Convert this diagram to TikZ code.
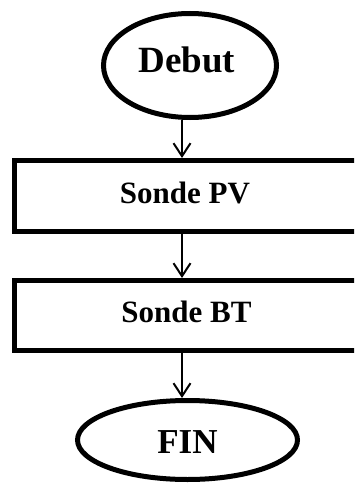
\documentclass[tikz,border=0pt]{standalone}
\usepackage{fontspec}
\setmainfont{Liberation Serif}
\usetikzlibrary{shapes.geometric,arrows.meta}
\begin{document}
\begin{tikzpicture}[x=1pt,y=-1pt,
  shapeline/.style={draw=black,line width=5pt,inner sep=0pt},
  termbox/.style={shapeline,ellipse},
  procbox/.style={shapeline,rectangle},
  lbl/.style={inner sep=0pt,font=\bfseries},
  arr/.style={line width=2pt,-{Straight Barb[length=13pt,width=17pt,line width=2pt]}}]
\useasboundingbox (0,0) rectangle (354,484);
\begin{scope}
\clip (0,0) rectangle (354,484);
\node[termbox,minimum width=173pt,minimum height=104pt] (debut) at (190,65.5) {};
\node[procbox,minimum width=347.5pt,minimum height=71pt] (pv) at (188.25,196) {};
\node[procbox,minimum width=347.5pt,minimum height=69.5pt] (bt) at (188.25,315.25) {};
\node[termbox,minimum width=220pt,minimum height=79pt] (fin) at (187.5,440) {};
\node[lbl,font=\bfseries\fontsize{37}{40}\selectfont] (tdebut) at (187,60) {Debut};
\node[lbl,font=\bfseries\fontsize{31}{34}\selectfont] (tpv) at (185,192.5) {Sonde PV};
\node[lbl,font=\bfseries\fontsize{31}{34}\selectfont] (tbt) at (186.5,311.5) {Sonde BT};
\node[lbl,font=\bfseries\fontsize{35}{38}\selectfont] (tfin) at (187.5,442) {FIN};
\coordinate (ax) at (182,0);
\draw[arr] (debut.south -| ax) -- (pv.north -| ax);
\draw[arr] (pv.south -| ax) -- (bt.north -| ax);
\draw[arr] (bt.south -| ax) -- (fin.north -| ax);
\end{scope}
\end{tikzpicture}
\end{document}
